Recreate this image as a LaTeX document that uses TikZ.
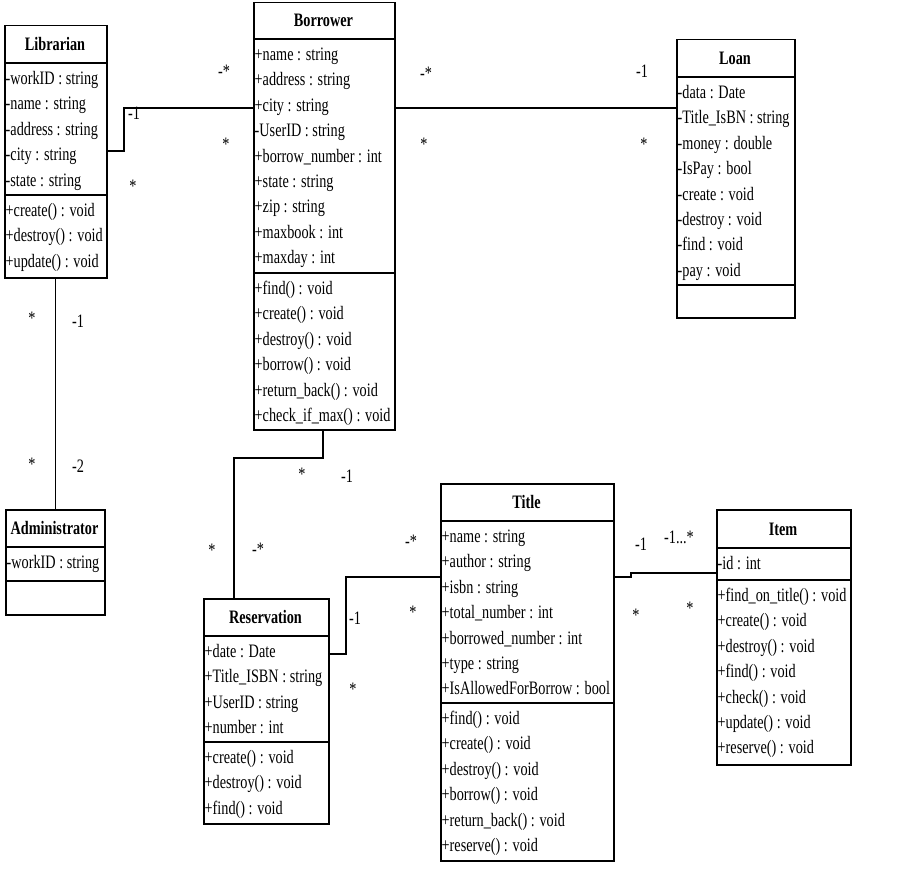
\documentclass[tikz,border=0pt]{standalone}
\usepackage{fontspec}
\setmainfont[FakeStretch=0.75]{Liberation Serif}
\newcommand\umlbox[8]{%
  \node[clsbox, minimum width={(#4-#2)*1pt}, minimum height={(#5-#3)*1pt}, anchor=north west] (#1) at (#2,#3) {};
  \draw[clsline] (#1.west |- 0,#6) -- (#1.east |- 0,#6);
  \draw[clsline] (#1.west |- 0,#7) -- (#1.east |- 0,#7);
  \node[clstitle] (#1-name) at ({(#2+#4)/2}, {(#3+#6)/2+6.5}) {#8};
}
\newcommand\umlrows[4]{%
  \foreach \t [count=\i] in {#4} {\node[clsrow] (#1-\i) at ({#2+1.5}, {#3+21.5+25.4*(\i-1)}) {\t};}
}
\begin{document}
\begin{tikzpicture}[x=1pt,y=-1pt,
  clsbox/.style={draw, line width=1.5pt, inner sep=0pt},
  clsline/.style={line width=1.5pt},
  clstitle/.style={anchor=base, inner sep=0pt, font=\fontsize{19}{22}\selectfont\bfseries},
  clsrow/.style={anchor=base west, inner sep=0pt, font=\fontsize{19}{22}\selectfont},
  lbl/.style={anchor=base, inner sep=0pt, font=\fontsize{19}{22}\selectfont},
  conn/.style={line width=1.1pt}]
\useasboundingbox (0,0) rectangle (900,880);

% Librarian
\umlbox{lib}{4}{25}{106}{277}{63}{195}{Librarian}
\umlrows{liba}{4}{63}{-workID : string, -name : string, -address : string, -city : string, -state : string}
\umlrows{libm}{4}{195}{+create() : void, +destroy() : void, +update() : void}

% Borrower
\umlbox{bor}{253}{2}{394}{429}{39}{273}{Borrower}
\umlrows{bora}{253}{39}{+name : string, +address : string, +city : string, -UserID : string, +borrow\_number : int, +state : string, +zip : string, +maxbook : int, +maxday : int}
\umlrows{borm}{253}{273}{+find() : void, +create() : void, +destroy() : void, +borrow() : void, +return\_back() : void, +check\_if\_max() : void}

% Loan
\umlbox{loan}{676}{39}{794}{317}{77}{285}{Loan}
\umlrows{loana}{676}{77}{-data : Date, -Title\_IsBN : string, -money : double, -IsPay : bool, -create : void, -destroy : void, -find : void, -pay : void}

% Administrator
\umlbox{adm}{5}{509}{104}{614}{547}{581}{Administrator}
\umlrows{adma}{5}{547}{-workID : string}

% Reservation
\umlbox{res}{203}{598}{328}{823}{636}{742}{Reservation}
\umlrows{resa}{203}{636}{+date : Date, +Title\_ISBN : string, +UserID : string, +number : int}
\umlrows{resm}{203}{742}{+create() : void, +destroy() : void, +find() : void}

% Title
\umlbox{tit}{440}{483}{613}{860}{521}{703}{Title}
\umlrows{tita}{440}{521}{+name : string, +author : string, +isbn : string, +total\_number : int, +borrowed\_number : int, +type : string, +IsAllowedForBorrow : bool}
\umlrows{titm}{440}{703}{+find() : void, +create() : void, +destroy() : void, +borrow() : void, +return\_back() : void, +reserve() : void}

% Item
\umlbox{item}{716}{509}{850}{764}{548}{580}{Item}
\umlrows{itema}{716}{548}{-id : int}
\umlrows{itemm}{716}{580}{+find\_on\_title() : void, +create() : void, +destroy() : void, +find() : void, +check() : void, +update() : void, +reserve() : void}

% Connectors
\draw[conn] (lib.east |- 0,151) -| (124,108) -- (bor.west |- 0,108);
\draw[conn] (bor.east |- 0,108) -- (loan.west |- 0,108);
\draw[conn] (lib.south) -- (lib.south |- adm.north);
\draw[conn] (bor.south -| 323,0) |- (234,458) -- (res.north -| 234,0);
\draw[conn] (res.east |- 0,654) -| (346,577) -- (tit.west |- 0,577);
\draw[conn] (tit.east |- 0,577) -| (631,573) -- (item.west |- 0,573);

% Multiplicities
\node[lbl] (l1) at (134,120) {-1};
\node[lbl] (l2) at (133,193) {*};
\node[lbl] (l3) at (224,78) {-*};
\node[lbl] (l4) at (226,150) {*};
\node[lbl] (l5) at (426,79.5) {-*};
\node[lbl] (l6) at (424,150) {*};
\node[lbl] (l7) at (642,78) {-1};
\node[lbl] (l8) at (644,150) {*};
\node[lbl] (l9) at (32,324) {*};
\node[lbl] (l10) at (78,327) {-1};
\node[lbl] (l11) at (32,470.5) {*};
\node[lbl] (l12) at (78,472) {-2};
\node[lbl] (l13) at (302,480) {*};
\node[lbl] (l14) at (347,482) {-1};
\node[lbl] (l15) at (212,556.5) {*};
\node[lbl] (l16) at (258,555) {-*};
\node[lbl] (l17) at (355,624) {-1};
\node[lbl] (l18) at (353,695) {*};
\node[lbl] (l19) at (411,547) {-*};
\node[lbl] (l20) at (413,618) {*};
\node[lbl] (l21) at (641,550) {-1};
\node[lbl] (l22) at (679,543) {-1...*};
\node[lbl] (l23) at (636,621.5) {*};
\node[lbl] (l24) at (690,614.5) {*};
\end{tikzpicture}
\end{document}
